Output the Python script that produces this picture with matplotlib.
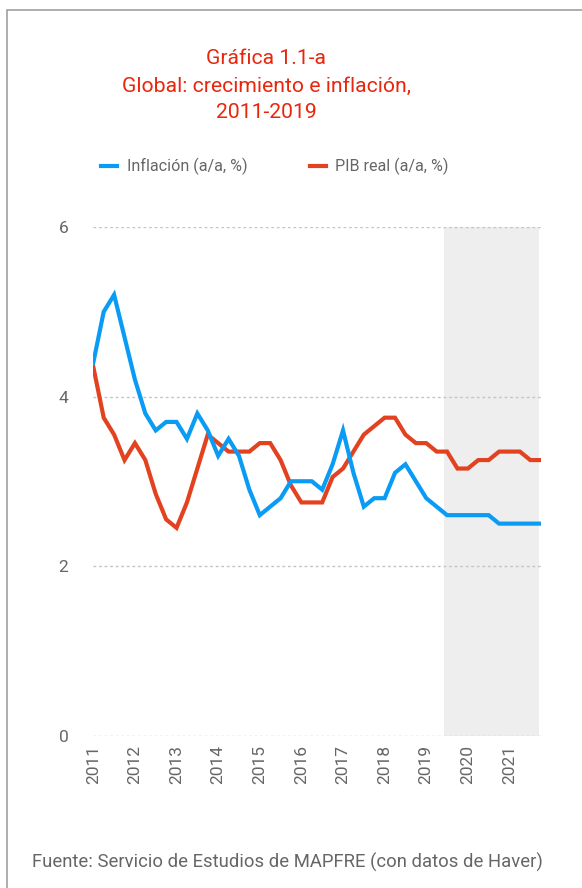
import matplotlib

matplotlib.use("Agg")
import matplotlib.pyplot as plt
from matplotlib.patches import Rectangle
import numpy as np

plt.rcParams["font.family"] = ["Roboto", "DejaVu Sans"]

# quarterly data, 2011Q1 .. 2021Q4
inflacion = [
    4.4, 5.0, 5.2, 4.7, 4.2, 3.8, 3.6, 3.7, 3.7, 3.5, 3.8, 3.6,
    3.3, 3.5, 3.3, 2.9, 2.6, 2.7, 2.8, 3.0, 3.0, 3.0, 2.9, 3.2,
    3.6, 3.1, 2.7, 2.8, 2.8, 3.1, 3.2, 3.0, 2.8, 2.7, 2.6, 2.6,
    2.6, 2.6, 2.6, 2.5, 2.5, 2.5, 2.5, 2.5,
]
pib = [
    4.35, 3.75, 3.55, 3.25, 3.45, 3.25, 2.85, 2.55, 2.45, 2.75, 3.15, 3.55,
    3.45, 3.35, 3.35, 3.35, 3.45, 3.45, 3.25, 2.95, 2.75, 2.75, 2.75, 3.05,
    3.15, 3.35, 3.55, 3.65, 3.75, 3.75, 3.55, 3.45, 3.45, 3.35, 3.35, 3.15,
    3.15, 3.25, 3.25, 3.35, 3.35, 3.35, 3.25, 3.25,
]
years = ["2011", "2012", "2013", "2014", "2015", "2016",
         "2017", "2018", "2019", "2020", "2021"]
forecast_span = (33.7, 42.85)  # shaded forecast area (quarter index)

blue = "#0a9cf5"
red = "#e2421f"
gray = "#666666"

W, H = 582, 888
fig = plt.figure(figsize=(W / 100, H / 100), dpi=100)

# outer frame (left/top visible)
fig.patches.append(Rectangle((7 / W, -0.1), 1.2, 1 - 10 / H + 0.1,
                             transform=fig.transFigure, fill=False,
                             edgecolor="#a0a0a0", linewidth=1.2))

left, right = 93.3 / W, 540.7 / W
bottom, top = 1 - 735.5 / H, 1 - 227 / H
ax = fig.add_axes([left, bottom, right - left, top - bottom])

x = np.arange(len(inflacion))
ax.axvspan(*forecast_span, color="#eeeeee", lw=0, zorder=0)
ax.plot(x, inflacion, color=blue, lw=3, solid_joinstyle="miter", zorder=3)
ax.plot(x, pib, color=red, lw=3, solid_joinstyle="miter", zorder=2)

ax.set_xlim(0, len(x) - 1)
ax.set_ylim(0, 6)
ax.set_yticks([0, 2, 4, 6])
ax.set_xticks(np.arange(len(years)) * 4)
ax.set_xticklabels(years, rotation=90)
ax.tick_params(axis="both", length=0, labelcolor=gray, labelsize=12.5)
ax.tick_params(axis="y", pad=18)
ax.tick_params(axis="x", pad=7)
ax.grid(axis="y", color="#c4c4c4", linestyle=(0, (2, 2)), lw=1)
ax.set_axisbelow(True)
for s in ax.spines.values():
    s.set_visible(False)
ax.patch.set_alpha(0)

# title
for txt, yy in [("Gráfica 1.1-a", 58),
                ("Global: crecimiento e inflación,", 86),
                ("2011-2019", 112)]:
    fig.text(266 / W, 1 - yy / H, txt, color="#e8260c", fontsize=15.2,
             ha="center", va="center")

# legend
ly = 1 - 166 / H
fig.lines.append(plt.Line2D([101 / W, 117 / W], [ly, ly], color=blue, lw=3,
                            transform=fig.transFigure))
fig.text(127 / W, ly, "Inflación (a/a, %)", color=gray, fontsize=11.6,
         ha="left", va="center")
fig.lines.append(plt.Line2D([310 / W, 326 / W], [ly, ly], color=red, lw=3,
                            transform=fig.transFigure))
fig.text(335 / W, ly, "PIB real (a/a, %)", color=gray, fontsize=11.6,
         ha="left", va="center")

fig.text(32 / W, 1 - 862 / H,
         "Fuente: Servicio de Estudios de MAPFRE (con datos de Haver)",
         color=gray, fontsize=13.3, ha="left", va="center")

fig.savefig("out.png", dpi=100)
